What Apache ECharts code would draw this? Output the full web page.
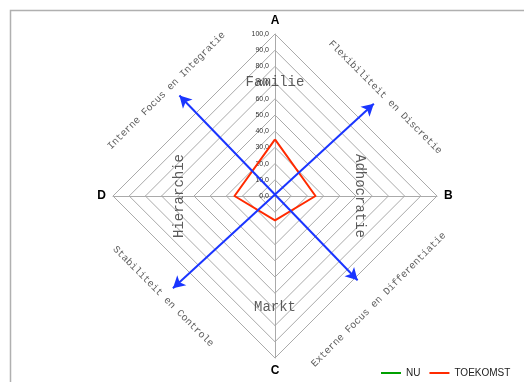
<!DOCTYPE html>
<html>
<head>
<meta charset="utf-8">
<script src="https://cdn.jsdelivr.net/npm/echarts@6/dist/echarts.min.js"></script>
<style>
  html, body { margin: 0; padding: 0; background: #fff; }
  #chart { width: 524px; height: 382px; }
</style>
</head>
<body>
<div id="chart"></div>
<script>
// Culture profile: four dimensions, values 0-100
const dimensions = ['A', 'B', 'C', 'D'];
const seriesNames = ['NU', 'TOEKOMST'];
const nuValues = [0, 0, 0, 0];            // A, B, C, D
const toekomstValues = [35, 25, 15, 25];  // A, B, C, D
const scaleTicks = [0, 10, 20, 30, 40, 50, 60, 70, 80, 90, 100];

// Quadrant names and the focus / flexibility captions, in plot units (-100..100)
const quadrantLabels = [
  { text: 'Familie', pos: [0, 70], rotate: 0 },
  { text: 'Adhocratie', pos: [52, 0], rotate: -90 },
  { text: 'Markt', pos: [0, -69], rotate: 0 },
  { text: 'Hierarchie', pos: [-59, 0], rotate: 90 }
];
const captionLabels = [
  { text: 'Interne Focus en Integratie', pos: [-67, 65], rotate: 45 },
  { text: 'Flexibiliteit en Discretie', pos: [68, 61], rotate: -45 },
  { text: 'Stabiliteit en Controle', pos: [-69, -62], rotate: -45 },
  { text: 'Externe Focus en Differentiatie', pos: [64, -64], rotate: 45 }
];
// Double-headed blue arrows crossing the centre
const arrows = [
  [[-63, -57], [61, 57]],
  [[-59, 62], [51, -52]]
];

const cx = 275, cy = 196, R = 162;

// Radar runs counter-clockwise from the top: A, D, C, B
const order = [0, 3, 2, 1];
const indicator = order.map(i => ({ name: dimensions[i], max: 100, min: 0 }));
const pick = arr => order.map(i => arr[i]);

const fmt = v => v.toFixed(1).replace('.', ',');

const textSeries = (items, size, color) => ({
  type: 'scatter',
  xAxisIndex: 0, yAxisIndex: 0,
  symbolSize: 0,
  silent: true,
  z: 5,
  data: items.map(it => ({
    value: it.pos,
    label: {
      show: true, position: 'inside', formatter: it.text, rotate: it.rotate,
      fontFamily: '"Liberation Mono", "DejaVu Sans Mono", monospace',
      fontSize: size, color: color
    }
  }))
});

const chart = echarts.init(document.getElementById('chart'), null, { renderer: 'canvas' });
chart.setOption({
  animation: false,
  backgroundColor: '#fff',
  graphic: [{
    // chart-area frame: left and top edges only
    type: 'polyline', silent: true,
    shape: { points: [[10.5, 400], [10.5, 10.5], [600, 10.5]] },
    style: { fill: null, stroke: '#b0b0b0', lineWidth: 1.5 }
  }],
  legend: {
    left: 381, top: 368, width: 200, padding: 0,
    itemWidth: 20, itemHeight: 2, itemGap: 9,
    icon: 'rect',
    textStyle: { fontFamily: '"Liberation Sans", Arial, sans-serif', fontSize: 10, color: '#222' },
    data: seriesNames
  },
  radar: {
    center: [cx, cy],
    radius: R,
    shape: 'polygon',
    startAngle: 90,
    splitNumber: 10,
    indicator: indicator,
    axisName: {
      color: '#000', fontWeight: 'bold', fontSize: 12,
      fontFamily: '"Liberation Sans", Arial, sans-serif'
    },
    nameGap: 7,
    axisLine: { lineStyle: { color: '#aaaaaa', width: 1 } },
    splitLine: { lineStyle: { color: '#aaaaaa', width: 1 } },
    splitArea: { show: false },
    axisTick: { show: false },
    axisLabel: { show: false }
  },
  grid: [
    { left: cx - R, top: cy - R, width: 2 * R, height: 2 * R, show: false },
    { left: cx, top: cy - R, width: 1, height: R, show: false }
  ],
  xAxis: [
    { gridIndex: 0, type: 'value', min: -100, max: 100, show: false },
    { gridIndex: 1, type: 'value', min: 0, max: 1, show: false }
  ],
  yAxis: [
    { gridIndex: 0, type: 'value', min: -100, max: 100, show: false },
    {
      gridIndex: 1, type: 'value', min: scaleTicks[0], max: scaleTicks[scaleTicks.length - 1], interval: 10,
      axisLine: { show: false }, axisTick: { show: false }, splitLine: { show: false },
      axisLabel: {
        margin: 6, fontSize: 7, color: '#333',
        fontFamily: '"Liberation Sans", Arial, sans-serif',
        formatter: v => fmt(v)
      }
    }
  ],
  series: [
    {
      type: 'radar',
      symbol: 'none',
      z: 4,
      data: [
        { name: seriesNames[0], value: pick(nuValues), lineStyle: { color: '#00a000', width: 2 }, itemStyle: { color: '#00a000' } },
        { name: seriesNames[1], value: pick(toekomstValues), lineStyle: { color: '#ff2a00', width: 2 }, itemStyle: { color: '#ff2a00' } }
      ]
    },
    {
      type: 'scatter', xAxisIndex: 0, yAxisIndex: 0, symbolSize: 0, silent: true, data: [],
      markLine: {
        silent: true,
        symbol: ['arrow', 'arrow'],
        symbolSize: [10, 12],
        label: { show: false },
        lineStyle: { color: '#1a35ff', width: 2, type: 'solid' },
        data: arrows.map(a => [{ coord: a[0] }, { coord: a[1] }])
      },
      z: 3
    },
    textSeries(quadrantLabels, 14, '#333'),
    textSeries(captionLabels, 10, '#333')
  ]
});
</script>
</body>
</html>
